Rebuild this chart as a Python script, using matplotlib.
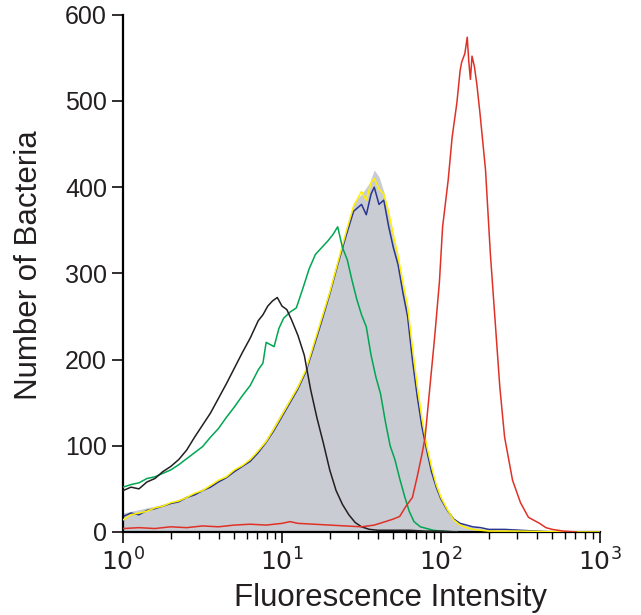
import numpy as np
import matplotlib
matplotlib.use("Agg")
import matplotlib.pyplot as plt
from matplotlib.ticker import LogLocator, FixedLocator

plt.rcParams["font.family"] = ["Liberation Sans", "DejaVu Sans"]

# ======================
# data (log10 of intensity, count)
# ======================
black_log = [0.00, 0.05, 0.10, 0.15, 0.20, 0.25, 0.30, 0.35, 0.40, 0.45, 0.50, 0.55,
             0.60, 0.65, 0.70, 0.75, 0.80, 0.85, 0.88, 0.91, 0.94, 0.97, 1.00, 1.03,
             1.06, 1.10, 1.14, 1.18, 1.22, 1.26, 1.30, 1.34, 1.38, 1.42, 1.46, 1.50,
             1.55, 1.60, 1.70, 1.80, 1.90, 2.00, 2.10]
black_cnt = [48, 52, 50, 58, 62, 70, 76, 84, 95, 110, 124, 138,
             155, 172, 190, 208, 225, 245, 252, 262, 268, 272, 262, 258,
             246, 228, 205, 165, 132, 103, 72, 48, 32, 20, 11, 6,
             3, 2, 2, 2, 1, 1, 0]

green_log = [0.00, 0.05, 0.10, 0.15, 0.20, 0.25, 0.30, 0.35, 0.40, 0.45, 0.50, 0.55,
             0.60, 0.65, 0.70, 0.75, 0.80, 0.85, 0.88, 0.90, 0.95, 0.98, 1.01, 1.05,
             1.09, 1.13, 1.17, 1.21, 1.25, 1.29, 1.32, 1.35, 1.38, 1.41, 1.44, 1.47,
             1.50, 1.53, 1.56, 1.59, 1.62, 1.65, 1.68, 1.71, 1.74, 1.77, 1.80, 1.83,
             1.87, 1.91, 1.95, 2.00, 2.10]
green_cnt = [52, 55, 57, 62, 64, 68, 72, 78, 85, 92, 99, 110,
             120, 133, 145, 158, 170, 188, 196, 220, 215, 236, 248, 255,
             260, 282, 305, 322, 330, 338, 345, 354, 330, 316, 292, 270,
             252, 238, 205, 180, 160, 128, 100, 84, 62, 42, 24, 12,
             6, 4, 2, 1, 0]

gray_log = [0.00, 0.05, 0.10, 0.15, 0.20, 0.25, 0.30, 0.35, 0.40, 0.45, 0.50, 0.55,
            0.60, 0.65, 0.70, 0.75, 0.80, 0.85, 0.90, 0.95, 1.00, 1.05, 1.10, 1.15,
            1.20, 1.25, 1.30, 1.35, 1.40, 1.45, 1.50, 1.55, 1.58, 1.61, 1.64, 1.67,
            1.70, 1.73, 1.76, 1.79, 1.82, 1.85, 1.88, 1.91, 1.94, 1.97, 2.00, 2.04,
            2.08, 2.12, 2.16, 2.20, 2.25, 2.30, 2.40, 2.50, 2.60, 2.70]
gray_cnt = [22, 24, 26, 28, 30, 32, 35, 38, 42, 46, 50, 55,
            61, 66, 72, 78, 86, 96, 108, 124, 140, 155, 172, 190,
            222, 252, 282, 316, 350, 382, 392, 405, 420, 412, 395, 368,
            340, 318, 285, 255, 210, 165, 128, 98, 74, 54, 40, 26,
            16, 10, 7, 6, 4, 3, 2, 2, 1, 0]

blue_log = [0.00, 0.05, 0.10, 0.15, 0.20, 0.25, 0.30, 0.35, 0.40, 0.45, 0.50, 0.55,
            0.60, 0.65, 0.70, 0.75, 0.80, 0.85, 0.90, 0.95, 1.00, 1.05, 1.10, 1.15,
            1.20, 1.25, 1.30, 1.35, 1.40, 1.45, 1.50, 1.53, 1.56, 1.58, 1.61, 1.64,
            1.67, 1.70, 1.73, 1.76, 1.79, 1.82, 1.85, 1.88, 1.91, 1.94, 1.97, 2.00,
            2.04, 2.08, 2.12, 2.16, 2.20, 2.25, 2.30, 2.40, 2.50, 2.60, 2.70]
blue_cnt = [18, 22, 20, 25, 27, 30, 33, 35, 40, 43, 48, 52,
            58, 63, 70, 76, 82, 92, 104, 118, 134, 150, 166, 186,
            215, 245, 276, 310, 342, 372, 380, 368, 392, 400, 380, 385,
            355, 330, 310, 278, 250, 200, 158, 122, 95, 70, 52, 38,
            25, 15, 10, 8, 6, 5, 3, 3, 2, 1, 0]

yellow_log = [0.00, 0.05, 0.10, 0.15, 0.20, 0.25, 0.30, 0.35, 0.40, 0.45, 0.50, 0.55,
              0.60, 0.65, 0.70, 0.75, 0.80, 0.85, 0.90, 0.95, 1.00, 1.05, 1.10, 1.15,
              1.20, 1.25, 1.30, 1.35, 1.40, 1.45, 1.50, 1.53, 1.56, 1.58, 1.61, 1.64,
              1.67, 1.70, 1.73, 1.76, 1.79, 1.82, 1.85, 1.88, 1.91, 1.94, 1.97, 2.00,
              2.04, 2.08, 2.12, 2.16, 2.20, 2.25, 2.30, 2.50, 2.80, 3.00]
yellow_cnt = [14, 20, 22, 24, 28, 30, 34, 36, 40, 45, 48, 54,
              60, 64, 72, 77, 84, 94, 105, 120, 136, 152, 168, 188,
              218, 248, 278, 312, 346, 378, 395, 385, 405, 410, 398, 392,
              372, 345, 320, 290, 262, 215, 170, 132, 100, 76, 55, 40,
              26, 14, 8, 5, 3, 2, 1, 1, 0, 0]

red_log = [0.00, 0.10, 0.20, 0.30, 0.40, 0.50, 0.60, 0.70, 0.80, 0.90, 1.00, 1.05,
           1.10, 1.20, 1.30, 1.40, 1.50, 1.58, 1.65, 1.70, 1.74, 1.78, 1.82, 1.85,
           1.88, 1.90, 1.93, 1.96, 1.99, 2.01, 2.045, 2.07, 2.10, 2.12, 2.13, 2.15,
           2.165, 2.175, 2.185, 2.195, 2.21, 2.225, 2.245, 2.28, 2.31, 2.34, 2.37, 2.40,
           2.45, 2.50, 2.55, 2.58, 2.62, 2.66, 2.70, 2.77, 2.85]
red_cnt = [4, 5, 4, 6, 5, 7, 6, 8, 9, 8, 10, 12,
           10, 9, 8, 7, 6, 8, 12, 15, 18, 30, 40, 64,
           90, 110, 168, 226, 290, 354, 408, 458, 498, 535, 545, 555,
           574, 545, 525, 552, 540, 520, 486, 420, 324, 246, 168, 110,
           60, 34, 17, 14, 10, 5, 3, 1, 0]

y_ticks = [0, 100, 200, 300, 400, 500, 600]
x_ticks = [1, 10, 100, 1000]
x_labels = ["$10^0$", "$10^1$", "$10^2$", "$10^3$"]

fig = plt.figure(figsize=(6.41, 6.15), dpi=100)
ax = fig.add_axes([0.192, 0.135, 0.744, 0.841])


def fl(logs):
    return np.power(10.0, np.asarray(logs))


ax.fill_between(fl(gray_log), gray_cnt, 0, color="#c9ccd3", lw=0, zorder=1)
ax.plot(fl(blue_log), blue_cnt, color="#2b3590", lw=1.1, zorder=2)
ax.plot(fl(yellow_log), yellow_cnt, color="#fff000", lw=1.1, zorder=3)
ax.plot(fl(green_log), green_cnt, color="#00a651", lw=1.1, zorder=4)
ax.plot(fl(black_log), black_cnt, color="#231f20", lw=1.1, zorder=5)
ax.plot(fl(red_log), red_cnt, color="#e03127", lw=1.1, zorder=6)

ax.set_xscale("log")
ax.set_xlim(1, 1000)
ax.set_ylim(0, 600)

ax.spines["top"].set_visible(False)
ax.spines["right"].set_visible(False)
ax.spines["left"].set_linewidth(1.6)
ax.spines["bottom"].set_linewidth(1.6)

ax.xaxis.set_major_locator(FixedLocator(x_ticks))
ax.set_xticklabels(x_labels)
ax.xaxis.set_minor_locator(LogLocator(base=10, subs=np.arange(2, 10)))
ax.set_yticks(y_ticks)

ax.tick_params(axis="both", which="major", direction="out", length=8, width=1.3,
               labelsize=18, colors="#231f20")
ax.tick_params(axis="x", which="minor", direction="out", length=5, width=1.0)

ax.set_xlabel("Fluorescence Intensity", fontsize=22.5, color="#231f20", labelpad=6)
ax.set_ylabel("Number of Bacteria", fontsize=22.5, color="#231f20", labelpad=15)
# labels in the figure sit a bit off-centre
ax.xaxis.label.set_x(0.56)
ax.yaxis.label.set_y(0.516)

fig.savefig("out.png", dpi=100)
